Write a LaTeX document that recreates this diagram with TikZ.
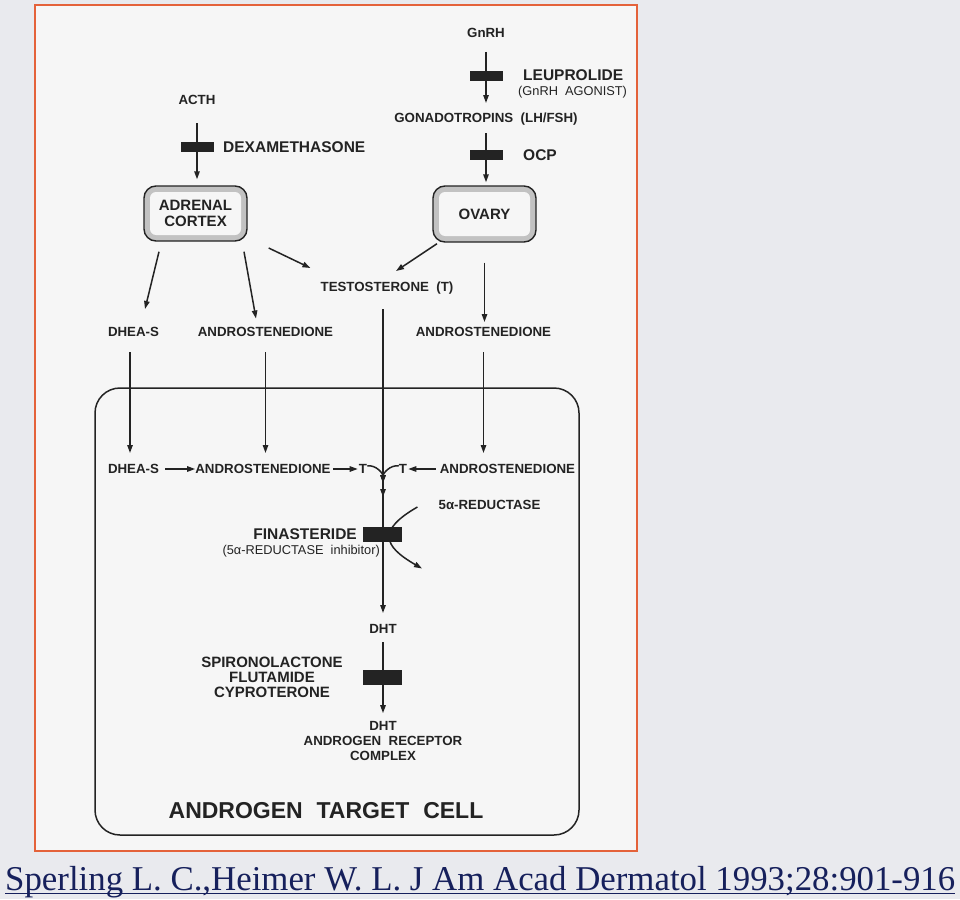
\documentclass[tikz,border=0pt]{standalone}
\usepackage{fontspec}
\setmainfont{Liberation Sans}
\newfontfamily\capfont{Liberation Serif}
\usetikzlibrary{arrows.meta,calc}
\definecolor{bgc}{RGB}{233,234,238}
\definecolor{framec}{RGB}{228,98,58}
\definecolor{paper}{RGB}{246,246,246}
\definecolor{ink}{RGB}{35,35,35}
\definecolor{navy}{RGB}{22,32,92}
\tikzset{
  lbl/.style={font=\bfseries\fontsize{13.3}{15}\selectfont, inner sep=0pt, text=ink, text height=9.6pt, text depth=0pt},
  multi/.style={font=\bfseries\fontsize{13.3}{15}\selectfont, inner sep=0pt, text=ink, align=center},
  lblbig/.style={font=\bfseries\fontsize{15.5}{16}\selectfont, inner sep=0pt, text=ink, text height=11.1pt, text depth=0pt},
  multimid/.style={font=\bfseries\fontsize{15}{15}\selectfont, inner sep=0pt, text=ink, align=center},
  lblreg/.style={font=\fontsize{12.8}{14}\selectfont, inner sep=0pt, text=ink, text height=9.2pt, text depth=0pt},
  ttl/.style={font=\bfseries\fontsize{23}{24}\selectfont, inner sep=0pt, text=ink, text height=16.5pt, text depth=0pt},
  bar/.style={fill=ink, minimum width=33pt, minimum height=10pt, inner sep=0pt},
  wbar/.style={bar, minimum width=39pt, minimum height=14.5pt},
  organ/.style={draw=ink, line width=1.4pt, rounded corners=12pt, fill=gray!48, inner sep=0pt},
  organin/.style={fill=paper, rounded corners=6pt, inner sep=0pt, text=ink, align=center,
     font=\bfseries\fontsize{15}{16}\selectfont},
  cellbox/.style={draw=ink, line width=1.5pt, rounded corners=25pt, minimum width=484pt, minimum height=447pt, inner sep=0pt},
  arr/.style={-{Triangle[length=8pt,width=5.4pt]}, line width=1.5pt, draw=ink}
}
\begin{document}
\begin{tikzpicture}[x=1pt,y=1pt]
\useasboundingbox (0,0) rectangle (960,-899);
\fill[bgc] (0,0) rectangle (960,-899);
\draw[framec, line width=1.3pt, fill=paper] (35,-5) rectangle (637,-851);

% ---- nodes
\node[lbl] (acth) at (197,-100) {ACTH};
\node[lblbig, anchor=west] (dexa) at (223,-147) {DEXAMETHASONE};
\node[organ, minimum width=103pt, minimum height=55pt] (adrenal) at (195.5,-213.5) {};
\node[organin, minimum width=91pt, minimum height=43pt] (adrenalT) at (adrenal) {ADRENAL\\CORTEX};

\node[lbl] (gnrh) at (486,-33) {GnRH};
\node[lblbig, anchor=west] (leup) at (523,-75) {LEUPROLIDE};
\node[lblreg, anchor=west] (agon) at (518,-91) {(GnRH\ \ AGONIST)};
\node[lbl] (gonad) at (486,-118) {GONADOTROPINS\ \ (LH/FSH)};
\node[lblbig, anchor=west] (ocp) at (523,-155) {OCP};
\node[organ, minimum width=103pt, minimum height=56pt] (ovary) at (484.5,-214) {};
\node[organin, minimum width=91pt, minimum height=44pt] (ovaryT) at (ovary) {OVARY};

\node[lbl] (testo) at (387,-287) {TESTOSTERONE\ \ (T)};
\node[lbl] (dheas1) at (133.5,-332) {DHEA-S};
\node[lbl] (andro1) at (265.5,-332) {ANDROSTENEDIONE};
\node[lbl] (andro2) at (483.5,-332) {ANDROSTENEDIONE};

\node[cellbox] (cell) at (337,-611.5) {};
\node[lbl] (dheas2) at (133.5,-469) {DHEA-S};
\node[lbl] (andro3) at (263,-469) {ANDROSTENEDIONE};
\node[lbl] (t1) at (363,-469) {T};
\node[lbl] (t2) at (403,-469) {T};
\node[lbl] (andro4) at (507.5,-469) {ANDROSTENEDIONE};
\node[lbl] (red) at (489.5,-505) {5α-REDUCTASE};
\node[lblbig, anchor=east] (fin) at (357,-534) {FINASTERIDE};
\node[lblreg, anchor=east] (fininh) at (380,-550) {(5α-REDUCTASE\ \ inhibitor)};
\node[lbl] (dht1) at (383,-629) {DHT};
\node[multimid] (spiro) at (272,-677) {SPIRONOLACTONE\\FLUTAMIDE\\CYPROTERONE};
\node[multi] (dht2) at (383,-741) {DHT\\ANDROGEN\ \ RECEPTOR\\COMPLEX};
\node[ttl] (cellT) at (326,-810) {ANDROGEN\hspace{.6em}TARGET\hspace{.6em}CELL};

% ---- connectors
\draw[arr, shorten <=18pt, shorten >=6pt] (acth.south) -- (acth.south |- adrenal.north);
\draw[arr, shorten <=14pt, shorten >=10pt] (gnrh.south) -- (gnrh.south |- gonad.north);
\draw[arr, shorten <=10pt, shorten >=3pt] (gonad.south) -- (gonad.south |- ovary.north);

\draw[arr] ($(adrenal.south)+(-36.5,-10)$) -- ($(dheas1.north)+(11.5,18)$);
\draw[arr] ($(adrenal.south)+(48.5,-10)$) -- ($(andro1.north)+(-9.5,8.5)$);
\draw[arr] ($(adrenal.east)+(21,-34.5)$) -- ($(testo.north west)+(-10,14)$);
\draw[arr] ($(ovary.south)+(-47.5,-1)$) -- ($(testo.north)+(9,11)$);
\draw[arr, shorten <=20pt, shorten >=5pt] (ovary.south) -- (ovary.south |- andro2.north);

\draw[arr, shorten <=15pt, shorten >=11pt] ([xshift=-3.5pt]dheas1.south) -- ([xshift=-3.5pt]dheas2.north);
\draw[arr, shorten <=15pt, shorten >=11pt] (andro1.south) -- (andro1.south |- andro3.north);
\draw[arr, shorten <=15pt, shorten >=11pt] (andro2.south) -- (andro2.south |- andro4.north);

\draw[arr, shorten <=17pt, shorten >=11pt] (testo.south -| dht1.north) -- (dht1.north);

\draw[arr, shorten <=6pt] (dheas2.east) -- (andro3.west);
\draw[arr, shorten <=2pt, shorten >=1pt] (andro3.east) -- (t1.west);
\draw[arr, shorten <=4pt, shorten >=1pt] (andro4.west) -- (t2.east);

\coordinate (m) at ($(dht1.north)+(0,141)$);
\coordinate (m2) at ($(dht1.north)+(0,127)$);
\draw[arr] ([yshift=-2pt]t1.north east) to[out=10,in=90] (m);
\draw[arr] ([yshift=-2pt]t2.north west) to[out=170,in=90] (m);
\draw[arr] (m) -- (m2);

\coordinate (r1) at ($(red.west)+(-21,-2)$);
\coordinate (r2) at ($(dht1.north)+(39,55.5)$);
\draw[arr] (r1) to[out=210,in=150,looseness=1.9] (r2);

\draw[arr, shorten <=8pt, shorten >=8pt] (dht1.south) -- (dht2.north);

% ---- blocking bars
\node[bar] (b1) at (197,-147) {};
\node[bar] (b2) at (486,-76) {};
\node[bar] (b3) at (486,-155) {};
\node[wbar] (b4) at (382.5,-534.5) {};
\node[wbar] (b5) at (382.5,-677.5) {};

% ---- caption
\node[anchor=base west, inner sep=0pt, text=navy] (cap) at (5,-890)
  {\resizebox{950pt}{!}{\capfont\fontsize{33}{36}\selectfont Sperling L. C.,Heimer W. L. J Am Acad Dermatol 1993;28:901-916}};
\draw[navy, line width=1.8pt] ([yshift=-3.5pt]cap.base west) -- ([yshift=-3.5pt]cap.base east);
\end{tikzpicture}
\end{document}
